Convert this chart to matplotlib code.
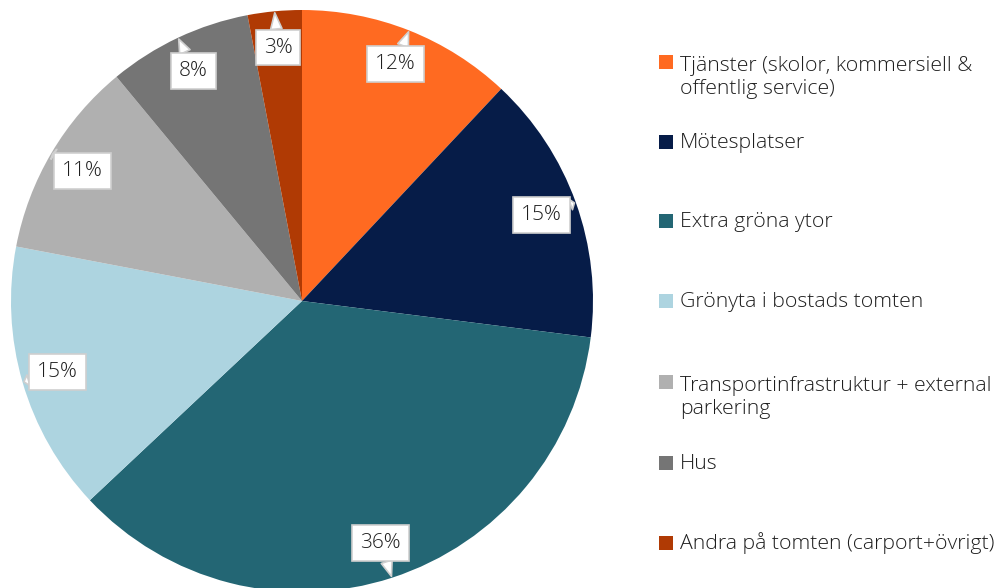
import numpy as np
import matplotlib
matplotlib.use("Agg")
import matplotlib.pyplot as plt
from matplotlib.patches import Rectangle

# Data
labels = [
    "Tjänster (skolor, kommersiell &\noffentlig service)",
    "Mötesplatser",
    "Extra gröna ytor",
    "Grönyta i bostads tomten",
    "Transportinfrastruktur + external\nparkering",
    "Hus",
    "Andra på tomten (carport+övrigt)",
]
values = [12, 15, 36, 15, 11, 8, 3]
colors = ["#FF6A21", "#061C48", "#236674", "#ADD4E0", "#B0B0B0", "#757575", "#B03A04"]

plt.rcParams["font.family"] = ["Open Sans", "DejaVu Sans"]
text_color = "#1E1E1E"

W, H = 1004, 588
fig = plt.figure(figsize=(W / 100, H / 100), dpi=100)

# pie axes, positioned in pixels
cx, cy, r = 302, 301, 291
ax = fig.add_axes([(cx - r) / W, (H - cy - r) / H, 2 * r / W, 2 * r / H])
wedges, _ = ax.pie(values, colors=colors, startangle=90, counterclock=False,
                   radius=1.0, wedgeprops=dict(linewidth=0))
ax.set_xlim(-1, 1)
ax.set_ylim(-1, 1)
ax.set_aspect("equal")
ax.axis("off")

# callout labels
total = sum(values)
for w, v in zip(wedges, values):
    ang = np.deg2rad((w.theta1 + w.theta2) / 2)
    tip = (0.995 * np.cos(ang), 0.995 * np.sin(ang))
    pos = (0.875 * np.cos(ang), 0.875 * np.sin(ang))
    ax.annotate(f"{round(100 * v / total)}%", xy=tip, xytext=pos,
                ha="center", va="center", fontsize=15, color=text_color,
                fontweight="light",
                bbox=dict(boxstyle="square,pad=0.38", fc="white", ec="#CFCFCF", lw=1.2),
                arrowprops=dict(arrowstyle="wedge,tail_width=0.55", fc="white",
                                ec="#CFCFCF", lw=1.2, shrinkA=0, shrinkB=0),
                annotation_clip=False)

# legend drawn by hand
ys = [62, 142, 221, 301, 382, 463, 543]
line_h = 26
for lab, col, y in zip(labels, colors, ys):
    fig.patches.append(Rectangle((659 / W, (H - y - 7) / H), 14 / W, 14 / H,
                                 transform=fig.transFigure, fc=col, ec="none"))
    base = y + 6 + line_h * lab.count("\n")
    fig.text(680 / W, (H - base) / H, lab, ha="left", va="baseline", fontsize=15.3,
             color=text_color, linespacing=1.22, fontweight="light")

fig.savefig("out.png", dpi=100)
